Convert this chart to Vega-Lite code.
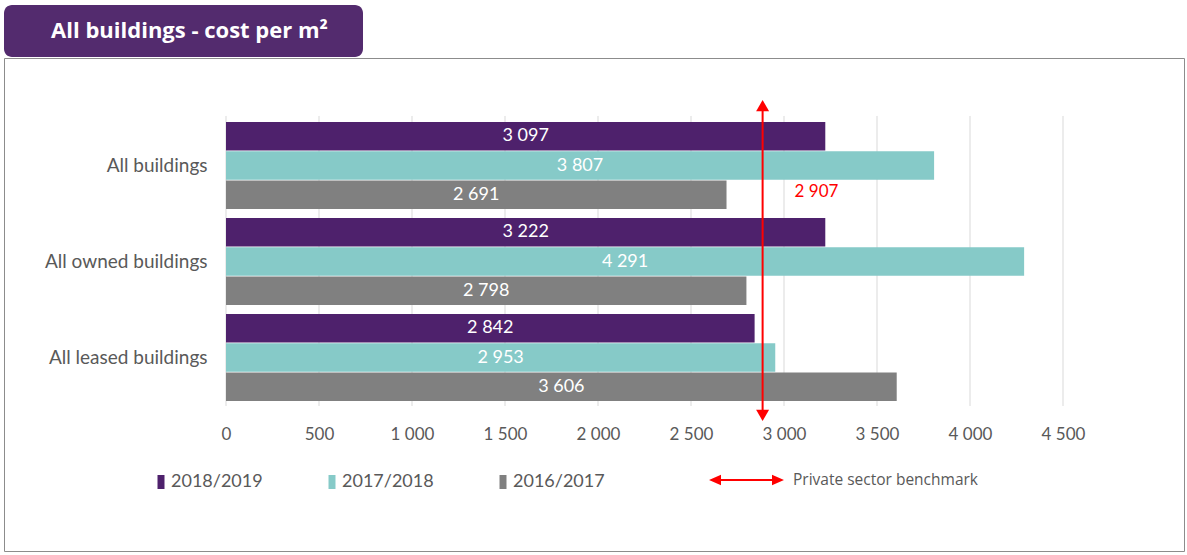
{
  "$schema": "https://vega.github.io/schema/vega-lite/v6.json",
  "padding": {"left": 3, "top": 5, "right": 4, "bottom": 5},
  "spacing": 0,
  "background": "white",
  "config": {
    "view": {"stroke": null},
    "font": "Lato",
    "axisX": {"title": null, "domain": false, "ticks": false, "grid": false, "offset": -117, "labelPadding": 0, "labelBaseline": "middle", "labelFontSize": 17, "labelColor": "#595959", "labelFont": "Lato", "labelFlush": false, "labelOverlap": false, "tickCount": 9, "labelExpr": "replace(format(datum.value, ','), ',', ' ')"}
  },
  "datasets": {
    "bars": [
      {"group": "All buildings", "year": "2018/2019", "value": 3222, "label": "3 097"},
      {"group": "All buildings", "year": "2017/2018", "value": 3807, "label": "3 807"},
      {"group": "All buildings", "year": "2016/2017", "value": 2691, "label": "2 691"},
      {"group": "All owned buildings", "year": "2018/2019", "value": 3222, "label": "3 222"},
      {"group": "All owned buildings", "year": "2017/2018", "value": 4291, "label": "4 291"},
      {"group": "All owned buildings", "year": "2016/2017", "value": 2798, "label": "2 798"},
      {"group": "All leased buildings", "year": "2018/2019", "value": 2842, "label": "2 842"},
      {"group": "All leased buildings", "year": "2017/2018", "value": 2953, "label": "2 953"},
      {"group": "All leased buildings", "year": "2016/2017", "value": 3606, "label": "3 606"}
    ],
    "ticks": [
      {"tick": 0}, {"tick": 500}, {"tick": 1000}, {"tick": 1500}, {"tick": 2000},
      {"tick": 2500}, {"tick": 3000}, {"tick": 3500}, {"tick": 4000}, {"tick": 4500}
    ],
    "bench": [
      {"series": "Private sector benchmark", "position": 2885, "label": "2 907"}
    ]
  },
  "vconcat": [
    {
      "width": 359,
      "height": 52,
      "view": {"fill": "#532b6e", "stroke": null, "cornerRadius": 8},
      "data": {"values": [{"title": "All buildings - cost per m²"}]},
      "mark": {"type": "text", "font": "Open Sans", "fontWeight": "bold", "fontSize": 22, "color": "white", "dx": 6},
      "encoding": {"text": {"field": "title", "type": "nominal"}}
    },
    {
      "width": 1180,
      "height": 493,
      "view": {"stroke": "#8c8c8c", "strokeWidth": 1},
      "resolve": {"scale": {"y": "independent"}},
      "layer": [
        {
          "data": {"name": "ticks"},
          "mark": {"type": "rule", "color": "#d9d9d9", "strokeWidth": 1},
          "encoding": {
            "x": {"field": "tick", "type": "quantitative", "scale": {"domain": [0, 4500], "range": [222, 1059], "nice": false, "zero": false}},
            "y": {"datum": -0.016, "type": "quantitative", "scale": {"domain": [0, 3], "range": [59.5, 347.5], "nice": false, "zero": false}, "axis": null},
            "y2": {"datum": 3.005}
          }
        },
        {
          "layer": [
            {
              "data": {"name": "bars"},
              "mark": {"type": "bar"},
              "encoding": {
                "x": {"field": "value", "type": "quantitative", "scale": {"domain": [0, 4500], "range": [222, 1059], "nice": false, "zero": false}},
                "y": {"field": "group", "type": "nominal", "sort": ["All buildings", "All owned buildings", "All leased buildings"],
                  "scale": {"range": [59.5, 347.5], "paddingInner": 0.09375, "paddingOuter": 0.046875},
                  "axis": {"title": null, "domain": false, "ticks": false, "grid": false, "offset": -203, "labelPadding": 0, "labelFontSize": 19, "labelColor": "#595959", "labelFont": "Lato"}},
                "yOffset": {"field": "year", "type": "nominal", "sort": ["2018/2019", "2017/2018", "2016/2017"], "scale": {"paddingInner": 0.03, "paddingOuter": 0}},
                "color": {"field": "year", "type": "nominal",
                  "scale": {"domain": ["2018/2019", "2017/2018", "2016/2017"], "range": ["#4e216c", "#86cac8", "#808080"]},
                  "legend": {"orient": "none", "legendX": 148, "legendY": 468, "direction": "horizontal", "title": null, "symbolType": "M-0.5,-1H0.5V1H-0.5Z", "symbolSize": 196, "symbolStrokeWidth": 0, "symbolOpacity": 1, "labelFont": "Lato", "labelFontSize": 18, "labelColor": "#595959", "labelOffset": 1, "columnPadding": 60, "padding": 0}}
              }
            },
            {
              "data": {"name": "bars"},
              "transform": [{"calculate": "datum.value / 2", "as": "mid"}],
              "mark": {"type": "text", "color": "white", "fontSize": 18, "font": "Lato", "baseline": "middle", "align": "center"},
              "encoding": {
                "x": {"field": "mid", "type": "quantitative"},
                "y": {"field": "group", "type": "nominal", "sort": ["All buildings", "All owned buildings", "All leased buildings"]},
                "yOffset": {"field": "year", "type": "nominal", "sort": ["2018/2019", "2017/2018", "2016/2017"]},
                "text": {"field": "label", "type": "nominal"}
              }
            },
            {
              "data": {"name": "bench"},
              "mark": {"type": "text", "color": "#ff0000", "fontSize": 17, "font": "Lato", "baseline": "middle", "align": "left", "dx": 32, "dy": -3},
              "encoding": {
                "x": {"field": "position", "type": "quantitative"},
                "y": {"datum": "All buildings", "type": "nominal"},
                "yOffset": {"datum": "2016/2017", "type": "nominal"},
                "text": {"field": "label", "type": "nominal"}
              }
            }
          ]
        },
        {
          "data": {"name": "bench"},
          "encoding": {
            "x": {"field": "position", "type": "quantitative"}
          },
          "layer": [
            {
              "mark": {"type": "rule", "color": "#ff0000", "strokeWidth": 2},
              "encoding": {
                "y": {"datum": -0.123, "type": "quantitative", "scale": {"domain": [0, 3], "range": [59.5, 347.5], "nice": false, "zero": false}, "axis": null},
                "y2": {"datum": 3.102}
              }
            },
            {
              "mark": {"type": "point", "shape": "triangle-up", "filled": true, "size": 169, "opacity": 1, "strokeWidth": 0},
              "encoding": {
                "y": {"datum": -0.123, "type": "quantitative"},
                "fill": {"field": "series", "type": "nominal", "scale": {"range": ["#ff0000"]},
                  "legend": {"orient": "none", "legendX": 705, "legendY": 437.5, "title": null, "symbolType": "M-1,0L-0.68,-0.14L-0.68,-0.027L0.68,-0.027L0.68,-0.14L1,0L0.68,0.14L0.68,0.027L-0.68,0.027L-0.68,0.14Z", "symbolSize": 5625, "symbolStrokeWidth": 0, "symbolOpacity": 1, "labelFont": "Open Sans", "labelFontSize": 15.5, "labelColor": "#595959", "labelOffset": 9, "labelLimit": 400, "padding": 0}}
              }
            },
            {
              "mark": {"type": "point", "shape": "triangle-down", "filled": true, "size": 169, "opacity": 1, "strokeWidth": 0},
              "encoding": {
                "y": {"datum": 3.102, "type": "quantitative"},
                "fill": {"field": "series", "type": "nominal"}
              }
            }
          ]
        }
      ]
    }
  ]
}
